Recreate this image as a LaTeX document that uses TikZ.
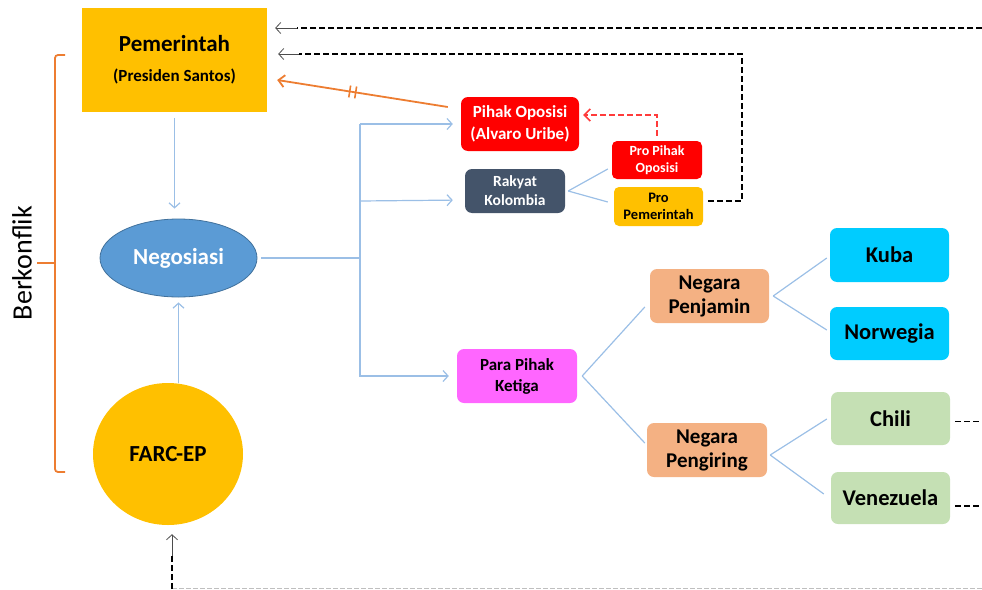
\documentclass[tikz,border=0pt]{standalone}
\usepackage{fontspec}
\setmainfont{Carlito}
\usetikzlibrary{arrows.meta,calc,shapes.geometric}
\definecolor{gold}{HTML}{FFC000}
\definecolor{brk}{HTML}{ED7D31}
\definecolor{lblue}{HTML}{9BBFE6}
\definecolor{negfill}{HTML}{5B9BD5}
\definecolor{negline}{HTML}{41719C}
\definecolor{slate}{HTML}{44546A}
\definecolor{pink}{HTML}{FF66FF}
\definecolor{peach}{HTML}{F4B183}
\definecolor{cyanb}{HTML}{00CCFF}
\definecolor{lgreen}{HTML}{C5E0B4}
\definecolor{redl}{HTML}{FF3B3B}
\begin{document}
\begin{tikzpicture}[x=1pt,y=-1pt,
  rbox/.style={rectangle, rounded corners=7pt, inner sep=0pt, align=center},
  conn/.style={draw=lblue, line width=1.2pt},
  barb/.style={-{Straight Barb[length=5pt,width=11pt]}},
  blkdash/.style={draw=black, line width=1.8pt, dash pattern=on 6pt off 3pt},
  gtip/.style={draw=black!70, line width=0.8pt, -{Straight Barb[length=5pt,width=11pt]}}]
\useasboundingbox (0,0) rectangle (982,589);
\coordinate (re) at (982,0);

% nodes
\node[rectangle, fill=gold, minimum width=185pt, minimum height=104pt, inner sep=0pt, align=center,
  font=\bfseries\fontsize{23}{30}\selectfont] (pem) at (174.5,60)
  {Pemerintah\\\fontsize{17}{30}\selectfont (Presiden Santos)};
\node[ellipse, fill=negfill, draw=negline, line width=0.8pt, minimum width=157pt, minimum height=78pt, inner sep=0pt, text=white, font=\bfseries\fontsize{23}{26}\selectfont] (neg) at (178.5,258) {Negosiasi};
\node[ellipse, fill=gold, minimum width=150pt, minimum height=142pt, inner sep=0pt, font=\bfseries\fontsize{23}{26}\selectfont] (farc) at (168,454) {FARC-EP};

\node[rbox, fill=red, text=white, minimum width=118pt, minimum height=54pt, font=\bfseries\fontsize{17}{22}\selectfont] (po) at (520,124)
  {Pihak Oposisi\\(Alvaro Uribe)};
\node[rbox, fill=slate, text=white, minimum width=100pt, minimum height=44pt, font=\bfseries\fontsize{15.5}{19}\selectfont] (rk) at (515,191)
  {Rakyat\\Kolombia};
\node[rbox, fill=red, text=white, minimum width=90pt, minimum height=38pt, rounded corners=5pt, font=\bfseries\fontsize{14}{17}\selectfont] (ppo) at (657,160)
  {Pro Pihak\\Oposisi};
\node[rbox, fill=gold, minimum width=89pt, minimum height=39pt, rounded corners=5pt, font=\bfseries\fontsize{14.5}{17}\selectfont] (ppe) at (658.5,206.5)
  {Pro\\Pemerintah};
\node[rbox, fill=pink, minimum width=120pt, minimum height=54pt, font=\bfseries\fontsize{17}{21}\selectfont] (ppk) at (517,376)
  {Para Pihak\\Ketiga};
\node[rbox, fill=peach, minimum width=119pt, minimum height=54pt, font=\bfseries\fontsize{21}{24}\selectfont] (np) at (709.5,296)
  {Negara\\Penjamin};
\node[rbox, fill=peach, minimum width=120pt, minimum height=54pt, font=\bfseries\fontsize{21}{24}\selectfont] (ng) at (707,450)
  {Negara\\Pengiring};
\node[rbox, fill=cyanb, minimum width=119pt, minimum height=54pt, font=\bfseries\fontsize{22.5}{26}\selectfont] (kuba) at (889.5,255) {Kuba};
\node[rbox, fill=cyanb, minimum width=119pt, minimum height=53pt, font=\bfseries\fontsize{22.5}{26}\selectfont] (nor) at (889.5,333.5) {Norwegia};
\node[rbox, fill=lgreen, minimum width=119pt, minimum height=53pt, font=\bfseries\fontsize{22.5}{26}\selectfont] (chili) at (890.5,418.5) {Chili};
\node[rbox, fill=lgreen, minimum width=119pt, minimum height=52pt, font=\bfseries\fontsize{22.5}{26}\selectfont] (ven) at (890.5,498) {Venezuela};

% bracket
\node[rotate=90, font=\fontsize{28}{32}\selectfont] (bk) at (22,263) {Berkonflik};
\draw[brk, line width=1.8pt, rounded corners=3pt] (65,55) -- (55,55) -- (55,263) -- (55,472) -- (65,472);
\draw[brk, line width=1.8pt] (55,263) -- (37,263);

% blue connectors
\draw[conn, barb, shorten <=6pt, shorten >=10pt] (pem.south) -- (pem.south |- neg.north);
\draw[conn, barb, shorten >=5pt] (neg.south |- farc.north) -- (neg.south);
\coordinate (br) at (360,258);
\draw[conn, shorten <=4pt] (neg.east) -- (br);
\draw[conn] (br) -- (360,124);
\draw[conn] (br) -- (360,377);
\draw[conn, barb, shorten >=8pt] (360,124) -- (po.west);
\draw[conn, barb, shorten >=12pt] (360,201) -- ([yshift=-9pt]rk.west);
\draw[conn, barb, shorten >=8pt] (360,376) -- (ppk.west);
\draw[conn] ([xshift=3pt]rk.east) -- ([xshift=-4pt,yshift=-9pt]ppo.west);
\draw[conn] ([xshift=3pt]rk.east) -- ([xshift=-6pt,yshift=4.5pt]ppe.west);
\draw[conn] ([xshift=5pt]ppk.east) -- ([xshift=-5pt,yshift=-11pt]np.west);
\draw[conn] ([xshift=5pt]ppk.east) -- ([xshift=-2pt,yshift=7pt]ng.west);
\draw[conn] ([xshift=4pt]np.east) -- ([xshift=-3pt,yshift=-3pt]kuba.west);
\draw[conn] ([xshift=4pt]np.east) -- ([xshift=-3pt,yshift=3.5pt]nor.west);
\draw[conn] ([xshift=3pt,yshift=-5pt]ng.east) -- ([xshift=-4pt,yshift=-0.5pt]chili.west);
\draw[conn] ([xshift=3pt,yshift=-5pt]ng.east) -- ([xshift=-7pt,yshift=4pt]ven.west);

% orange arrow with double bar
\coordinate (oa) at ([xshift=-13pt,yshift=17pt]po.west);
\coordinate (ob) at ([xshift=10pt,yshift=-20pt]pem.east);
\draw[brk, line width=1.8pt, -{Straight Barb[length=6pt,width=12pt]}] (oa) -- (ob);
\coordinate (m1) at ($(oa)!0.54!(ob)$);
\coordinate (m2) at ($(oa)!0.575!(ob)$);
\draw[brk, line width=1.6pt] ($(m1)!6pt!90:(ob)$) -- ($(m1)!6pt!-90:(ob)$);
\draw[brk, line width=1.6pt] ($(m2)!6pt!90:(ob)$) -- ($(m2)!6pt!-90:(ob)$);

% red dashed arrow
\coordinate (rd) at (657,115);
\draw[redl, line width=1.5pt, dash pattern=on 6pt off 3pt, -{Straight Barb[length=6pt,width=12pt]}]
  ([yshift=5pt]ppo.north) -- (rd) -- ([xshift=4pt]rd -| po.east);

% black dashed returns
\coordinate (d1) at (297,28);
\draw[blkdash] (982,28) -- (d1);
\draw[gtip] (d1) -- ([xshift=8pt]pem.east |- d1);
\coordinate (d2a) at (742,201);
\coordinate (d2b) at (742,54);
\coordinate (d2) at (299,54);
\draw[blkdash] ([xshift=5pt]ppe.east |- d2a) -- (d2a) -- (d2b) -- (d2);
\draw[gtip] (d2) -- ([xshift=11pt]pem.east |- d2);
\draw[blkdash] ([xshift=5pt,yshift=-3pt]chili.east) -- ([yshift=-3pt]chili.east -| re);
\draw[blkdash] ([xshift=5pt,yshift=-8pt]ven.east) -- ([yshift=-8pt]ven.east -| re);

% bottom
\coordinate (b1) at (172,556);
\draw[draw=black!25, line width=0.8pt, dash pattern=on 5pt off 2pt] (172,588) -- (982,588);
\draw[blkdash, line width=1.5pt] (172,589) -- (b1);
\draw[gtip, shorten >=9pt] (b1) -- (b1 |- farc.south);
\end{tikzpicture}
\end{document}
